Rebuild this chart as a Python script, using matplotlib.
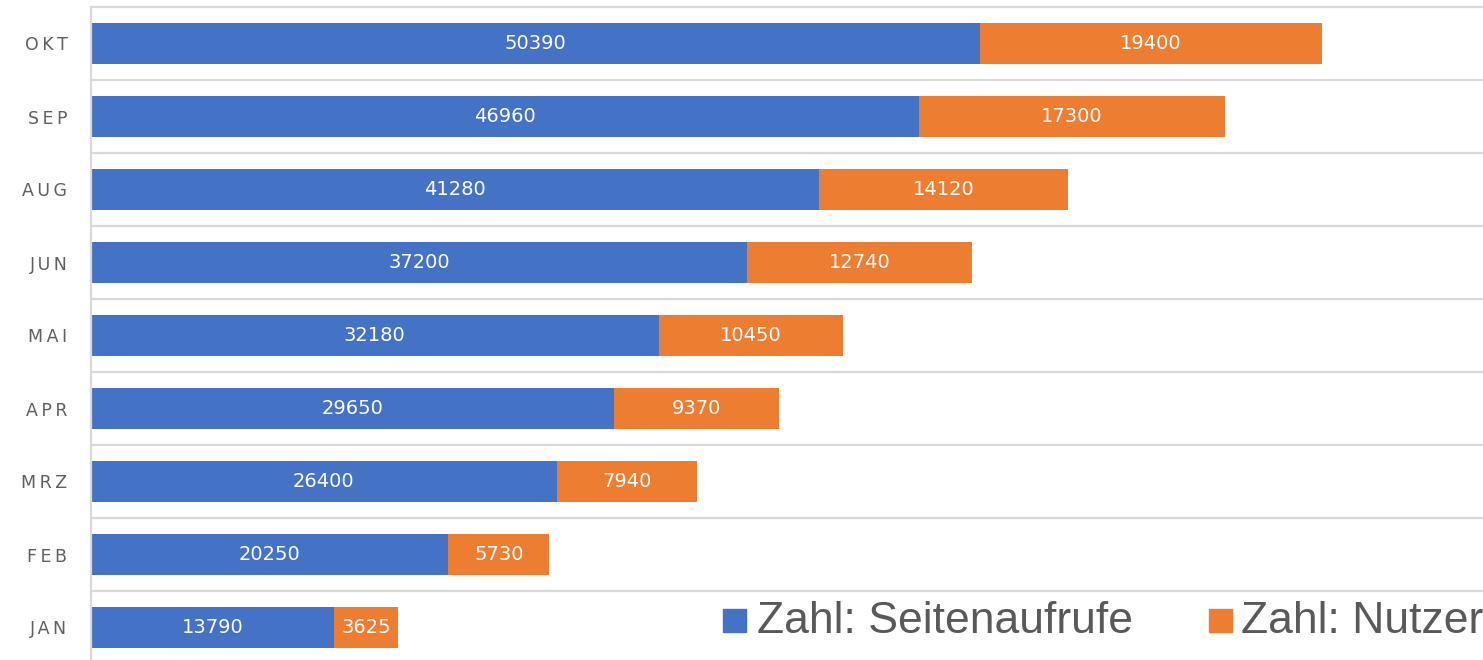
import matplotlib
matplotlib.use('Agg')
from matplotlib import pyplot as plt
import numpy as np

months = ['JAN', 'FEB', 'MRZ', 'APR', 'MAI', 'JUN', 'AUG', 'SEP', 'OKT']
seitenaufrufe = [13790, 20250, 26400, 29650, 32180, 37200, 41280, 46960, 50390]
nutzer = [3625, 5730, 7940, 9370, 10450, 12740, 14120, 17300, 19400]

BLUE = '#4472C4'
ORANGE = '#ED7D31'
GRID = '#D9D9D9'

W, H = 1483, 660
fig = plt.figure(figsize=(W / 100, H / 100), dpi=100)
# plot area: top line at y=7 px, bottom line just below the picture
ax = fig.add_axes([91 / W, -4 / H, 1 - 91 / W, 657 / H])

y = np.arange(len(months))
ax.barh(y, seitenaufrufe, height=0.56, color=BLUE, label='Zahl: Seitenaufrufe')
ax.barh(y, nutzer, left=seitenaufrufe, height=0.56, color=ORANGE, label='Zahl: Nutzer')

for i, (s, n) in enumerate(zip(seitenaufrufe, nutzer)):
    ax.text(s / 2, i, str(s), ha='center', va='center', color='white',
            fontsize=14, family='DejaVu Sans')
    ax.text(s + n / 2, i, str(n), ha='center', va='center', color='white',
            fontsize=14, family='DejaVu Sans')

ax.set_xlim(0, 78900)
ax.set_ylim(-0.5, len(months) - 0.5)

# horizontal lines between categories
for b in np.arange(-0.5, len(months), 1.0):
    ax.axhline(b, color=GRID, lw=1.6, zorder=0, clip_on=False)

ax.set_yticks(y)
ax.set_yticklabels(['\u2009'.join(m) for m in months], color='#5f5f5f', fontsize=12.5,
                   family='DejaVu Sans')
ax.tick_params(axis='y', length=0, pad=26 - 9)
ax.set_xticks([])
for side in ['top', 'right', 'bottom']:
    ax.spines[side].set_visible(False)
ax.spines['left'].set_color(GRID)
ax.spines['left'].set_linewidth(1.6)

# legend drawn by hand at the bottom right
fig.patches.append(plt.Rectangle((723 / W, (660 - 632) / H), 23 / W, 23 / H,
                                 transform=fig.transFigure, color=BLUE))
fig.text(757 / W, (660 - 633) / H, 'Zahl: Seitenaufrufe', fontsize=32,
         color='#595959', va='baseline', ha='left', family='Liberation Sans')
fig.patches.append(plt.Rectangle((1209 / W, (660 - 632) / H), 23 / W, 23 / H,
                                 transform=fig.transFigure, color=ORANGE))
fig.text(1241 / W, (660 - 633) / H, 'Zahl: Nutzer', fontsize=32,
         color='#595959', va='baseline', ha='left', family='Liberation Sans')

fig.savefig('out.png', dpi=100)
